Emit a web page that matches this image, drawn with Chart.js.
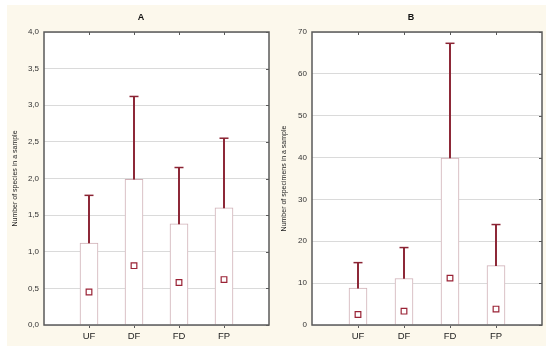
<!DOCTYPE html>
<html>
<head>
<meta charset="utf-8">
<script src="https://cdn.jsdelivr.net/npm/chart.js@4/dist/chart.umd.min.js"></script>
<style>
  html, body { margin: 0; padding: 0; background: #ffffff; }
  #bg { position: absolute; left: 7px; top: 5px; width: 539px; height: 341px; background: #fcf8ec; }
  .panel { position: absolute; top: 0; width: 275px; height: 351px; }
  #pa { left: 0; }
  #pb { left: 275px; }
</style>
</head>
<body>
<div id="bg"></div>
<div class="panel" id="pa"><canvas id="ca" width="275" height="351"></canvas></div>
<div class="panel" id="pb"><canvas id="cb" width="275" height="351"></canvas></div>
<script>
const categories = ['UF', 'DF', 'FD', 'FP'];

// Panel A: number of species in a sample
const speciesBox = [1.12, 1.99, 1.38, 1.60];
const speciesWhisker = [1.77, 3.12, 2.15, 2.55];
const speciesMarker = [0.45, 0.81, 0.58, 0.62];

// Panel B: number of specimens in a sample
const specimensBox = [8.8, 11.1, 39.9, 14.2];
const specimensWhisker = [14.9, 18.5, 67.3, 24.0];
const specimensMarker = [2.5, 3.3, 11.2, 3.8];

const FONT = "'Liberation Sans', Arial, sans-serif";
const DARK_RED = '#8b2434';
const BOX_EDGE = '#d0b0b6';
const FRAME = '#5a5a5a';

const framePlugin = {
  id: 'frame',
  beforeDraw(chart) {
    const a = chart.chartArea, c = chart.ctx;
    c.save();
    c.fillStyle = '#ffffff';
    c.fillRect(a.left, a.top, a.right - a.left, a.bottom - a.top);
    c.restore();
  },
  afterDatasetsDraw(chart) {
    const a = chart.chartArea, c = chart.ctx;
    c.save();
    c.strokeStyle = FRAME;
    c.lineWidth = 1.5;
    c.strokeRect(a.left, a.top, a.right - a.left, a.bottom - a.top);
    c.lineWidth = 1;
    c.beginPath();
    chart.scales.x.ticks.forEach(t => {
      if (t.value >= 1 && t.value <= categories.length) {
        const px = Math.round(chart.scales.x.getPixelForValue(t.value)) + 0.5;
        c.moveTo(px, a.top); c.lineTo(px, a.top + 3);
      }
    });
    chart.scales.y.ticks.forEach(t => {
      const py = Math.round(chart.scales.y.getPixelForValue(t.value)) + 0.5;
      c.moveTo(a.right, py); c.lineTo(a.right - 3, py);
    });
    c.stroke();
    c.restore();
  }
};

function makeChart(canvasId, title, yTitle, box, whisker, marker, yMax, yStep, fmt, pad, yWidth) {
  const pts = arr => arr.map((v, i) => ({ x: i + 1, y: v }));
  return new Chart(document.getElementById(canvasId), {
    type: 'bar',
    data: {
      datasets: [
        {
          type: 'bar', order: 4, grouped: false,
          data: pts(box),
          backgroundColor: '#ffffff', borderColor: BOX_EDGE, borderWidth: 1,
          barThickness: 18
        },
        {
          type: 'bar', order: 3, grouped: false,
          data: box.map((v, i) => ({ x: i + 1, y: [v, whisker[i]] })),
          backgroundColor: DARK_RED, borderWidth: 0,
          barThickness: 1.3
        },
        {
          type: 'line', order: 2, showLine: false,
          data: pts(whisker),
          pointStyle: 'line', pointRadius: 4.5, pointBorderWidth: 1.5,
          pointBorderColor: DARK_RED, pointBackgroundColor: DARK_RED
        },
        {
          type: 'line', order: 1, showLine: false,
          data: pts(marker),
          pointStyle: 'rect', pointRadius: 4, pointBorderWidth: 1.2,
          pointBorderColor: '#9a2336', pointBackgroundColor: '#ffffff'
        }
      ]
    },
    options: {
      responsive: false,
      devicePixelRatio: 1,
      animation: false,
      layout: { padding: pad },
      plugins: {
        legend: { display: false },
        tooltip: { enabled: false },
        title: {
          display: true, text: title, color: '#111',
          font: { family: FONT, size: 9, weight: 'bold' },
          padding: { top: 0, bottom: 9.2 }
        }
      },
      scales: {
        x: {
          type: 'linear', min: 0, max: categories.length + 1, offset: false,
          afterFit(s) { s.height = 26; },
          ticks: {
            stepSize: 1, autoSkip: false, maxRotation: 0, padding: 3,
            color: '#222', font: { family: FONT, size: 9.5 },
            callback: v => categories[v - 1] || ''
          },
          grid: {
            drawOnChartArea: false, drawTicks: true, tickLength: 3, offset: false,
            color: ctx => (ctx.tick && ctx.tick.value >= 1 && ctx.tick.value <= categories.length) ? FRAME : 'rgba(0,0,0,0)'
          },
          border: { display: false }
        },
        y: {
          min: 0, max: yMax,
          afterFit(s) { s.width = yWidth; },
          ticks: {
            stepSize: yStep, padding: 5, color: '#333',
            font: { family: FONT, size: 8 },
            callback: fmt
          },
          grid: { color: '#dadada', drawTicks: false, lineWidth: 1 },
          border: { display: false },
          title: {
            display: true, text: yTitle, color: '#222',
            font: { family: FONT, size: 7 },
            padding: { top: 0, bottom: 0 }
          }
        }
      }
    },
    plugins: [framePlugin]
  });
}

makeChart('ca', 'A', 'Number of species in a sample',
  speciesBox, speciesWhisker, speciesMarker, 4, 0.5,
  v => v.toFixed(1).replace('.', ','),
  { left: 11, right: 4, top: 12, bottom: 0 }, 33);

makeChart('cb', 'B', 'Number of specimens in a sample',
  specimensBox, specimensWhisker, specimensMarker, 70, 10,
  v => String(v),
  { left: 5, right: 8, top: 12, bottom: 0 }, 32);
</script>
</body>
</html>
